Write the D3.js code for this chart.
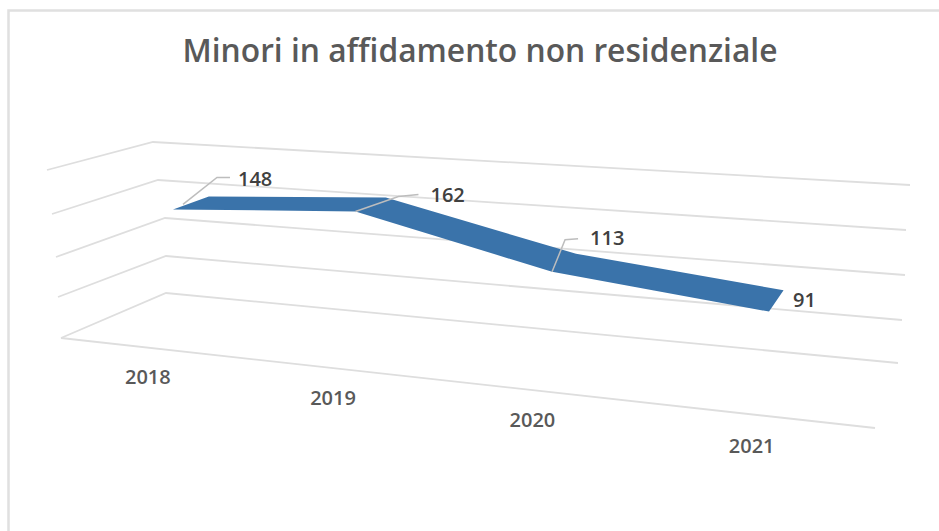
<!DOCTYPE html>
<html>
<head>
<meta charset="utf-8">
<script src="https://cdn.jsdelivr.net/npm/d3@7"></script>
<style>
  html, body { margin: 0; padding: 0; background: #fff; }
  svg { display: block; }
  text { font-family: "Open Sans", "Noto Sans", sans-serif; }
</style>
</head>
<body>
<svg id="chart" width="939" height="531"></svg>
<script>
// Data
const titleText = "Minori in affidamento non residenziale";
const years = ["2018", "2019", "2020", "2021"];
const minori = [148, 162, 113, 91];
const gridLevels = [0, 50, 100, 150, 200];

// Box corners in page space, one entry per grid level
const cornerFrontLeft  = { x: [61, 58, 56, 52, 47],      y: [338, 297, 257, 214, 170] };
const cornerBackLeft   = { x: [166, 166, 165, 158, 153], y: [293, 256, 218, 180, 142] };
const cornerBackRight  = { x: [898, 902, 905, 906, 910], y: [363, 320, 275, 230, 185] };
const cornerFrontRight = { x: [875, 878, 881, 884, 888], y: [428, 384, 339, 285, 232] };

const corner = c => ({
  x: d3.scaleLinear().domain(gridLevels).range(c.x),
  y: d3.scaleLinear().domain(gridLevels).range(c.y)
});
const FL = corner(cornerFrontLeft), BL = corner(cornerBackLeft),
      BR = corner(cornerBackRight), FR = corner(cornerFrontRight);
const at = (c, v) => [c.x(v), c.y(v)];

// Perspective map of the unit square (t along the years, d into the depth) at value v
function project(t, d, v) {
  const [x0, y0] = at(FL, v), [x1, y1] = at(FR, v), [x2, y2] = at(BR, v), [x3, y3] = at(BL, v);
  const dx1 = x1 - x2, dx2 = x3 - x2, sx = x0 - x1 + x2 - x3;
  const dy1 = y1 - y2, dy2 = y3 - y2, sy = y0 - y1 + y2 - y3;
  const den = dx1 * dy2 - dx2 * dy1;
  const g = (sx * dy2 - dx2 * sy) / den, h = (dx1 * sy - sx * dy1) / den;
  const a = x1 - x0 + g * x1, b = x3 - x0 + h * x3;
  const e = y1 - y0 + g * y1, f = y3 - y0 + h * y3;
  const w = g * t + h * d + 1;
  return [(a * t + b * d + x0) / w, (e * t + f * d + y0) / w];
}

// Category stops along the floor, eased against the foreshortening of the box
const tOf = d3.scaleOrdinal().domain(years).range([0.133, 0.402, 0.648, 0.883]);
const ribbonFront = 0.345, ribbonBack = 0.705;

const svg = d3.select("#chart");
const line = d3.line();
const gridColor = "#dedede";

// Chart frame
svg.append("path")
  .attr("d", "M8.5,531V10.5H939")
  .attr("fill", "none").attr("stroke", "#e0e0e0").attr("stroke-width", 2.5);

// Title
svg.append("text")
  .attr("x", 480).attr("y", 62)
  .attr("text-anchor", "middle")
  .attr("font-size", 32).attr("font-weight", 600)
  .attr("fill", "#595959")
  .attr("textLength", 595).attr("lengthAdjust", "spacingAndGlyphs")
  .text(titleText);

// Walls and floor grid
svg.append("g").selectAll("path")
  .data(gridLevels)
  .join("path")
  .attr("d", v => line([at(FL, v), at(BL, v), at(BR, v)]))
  .attr("fill", "none").attr("stroke", gridColor).attr("stroke-width", 1.8);
svg.append("path")
  .attr("d", line([at(FL, 0), at(FR, 0)]))
  .attr("fill", "none").attr("stroke", gridColor).attr("stroke-width", 1.8);

// Ribbon
const frontPts = years.map((y, i) => project(tOf(y), ribbonFront, minori[i]));
const backPts  = years.map((y, i) => project(tOf(y), ribbonBack, minori[i]));
svg.append("path")
  .attr("d", line(frontPts.concat(backPts.slice().reverse())) + "Z")
  .attr("fill", "#3a73aa");

// Value labels with leader lines; the last label sits beside the ribbon end
const labelOffsets = [[65, -29], [75, -15], [38, -32], [24, -10]];
const leaderOffsets = [
  [[10, -5], [44, -32], [57, -32]],
  [[0, 0], [43, -15], [63, -17]],
  [[0, 0], [13, -32], [26, -33]],
  null
];
frontPts.forEach((p, i) => {
  if (leaderOffsets[i]) {
    svg.append("path")
      .attr("d", line(leaderOffsets[i].map(o => [p[0] + o[0], p[1] + o[1]])))
      .attr("fill", "none").attr("stroke", "#bdbdbd").attr("stroke-width", 1.5);
  }
  svg.append("text")
    .attr("x", p[0] + labelOffsets[i][0]).attr("y", p[1] + labelOffsets[i][1])
    .attr("dominant-baseline", "middle")
    .attr("font-size", 20).attr("font-weight", 600).attr("fill", "#404040")
    .text(minori[i]);
});

// Year labels below the floor
const yearOffsets = [[-4, 31], [-17, 30], [-18, 30], [-10, 32]];
years.forEach((y, i) => {
  const p = project(tOf(y), 0, 0);
  svg.append("text")
    .attr("x", p[0] + yearOffsets[i][0]).attr("y", p[1] + yearOffsets[i][1])
    .attr("text-anchor", "middle")
    .attr("dominant-baseline", "middle")
    .attr("font-size", 20).attr("font-weight", 600).attr("fill", "#595959")
    .text(y);
});
</script>
</body>
</html>
